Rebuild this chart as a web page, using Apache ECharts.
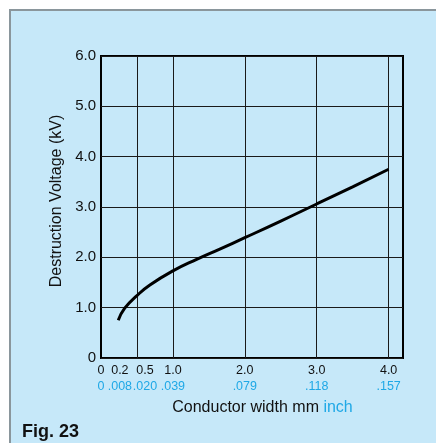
<!DOCTYPE html>
<html>
<head>
<meta charset="utf-8">
<script src="https://cdn.jsdelivr.net/npm/echarts@6/dist/echarts.min.js"></script>
<style>
html,body{margin:0;padding:0;background:#fff;overflow:hidden;}
#box{position:absolute;left:9px;top:9px;width:440px;height:450px;background:#c6e8f9;border-left:2px solid #8a969c;border-top:2px solid #8a969c;}
#chart{position:absolute;left:0;top:0;width:436px;height:443px;}
</style>
</head>
<body>
<div id="box"></div>
<div id="chart"></div>
<script>
// Data
const widthMm = [0.24, 0.33, 0.5, 0.68, 1.0, 1.33, 1.66, 2.0, 2.5, 3.0, 3.5, 4.0];
const voltageKv = [0.75, 0.99, 1.24, 1.45, 1.73, 1.96, 2.17, 2.39, 2.72, 3.06, 3.40, 3.75];
const mmTicks = [0, 0.2, 0.5, 1, 2, 3, 4];
const mmTickLabels = ['0', '0.2', '0.5', '1.0', '2.0', '3.0', '4.0'];
const inchTickLabels = ['0', '.008', '.020', '.039', '.079', '.118', '.157'];
const xGridValues = [0.5, 1, 2, 3, 4];
const yTicks = [0, 1, 2, 3, 4, 5, 6];
const yTickLabels = ['0', '1.0', '2.0', '3.0', '4.0', '5.0', '6.0'];

const BLUE = '#1fa8e6';
const FONT = '"Liberation Sans", Arial, sans-serif';
const LBL = 12.5;

// label groups (separate axes so that close labels are not hidden and can be nudged)
const tickGroups = [[0], [0.2], [0.5], [1, 2, 3, 4]];
const groupPad = [0, 9, 16, 0];

const rich = {
  m: {fontSize: LBL, color: '#111', lineHeight: 16, fontFamily: FONT},
  i: {fontSize: LBL, color: BLUE, lineHeight: 16, fontFamily: FONT}
};

function xLabelFormatter(v) {
  const idx = mmTicks.findIndex(t => Math.abs(t - v) < 1e-6);
  if (idx < 0) return '';
  return '{m|' + mmTickLabels[idx] + '}\n{i|' + inchTickLabels[idx] + '}';
}

const xAxes = tickGroups.map((vals, k) => {
  const ax = {
    type: 'value', min: 0, max: 4.2,
    position: 'bottom',
    axisLine: {show: false, onZero: false},
    axisTick: {show: false},
    splitLine: {show: false},
    axisLabel: {
      customValues: vals,
      margin: 5,
      hideOverlap: false,
      padding: [0, 0, 0, groupPad[k]],
      formatter: xLabelFormatter,
      rich: rich
    }
  };
  if (k === 3) {
    ax.name = '{a|Conductor width mm }{b|inch}';
    ax.nameLocation = 'middle';
    ax.nameGap = 42;
    ax.nameTextStyle = {
      padding: [0, 0, 0, 21],
      rich: {
        a: {fontSize: 16, color: '#111', fontFamily: FONT},
        b: {fontSize: 16, color: BLUE, fontFamily: FONT}
      }
    };
  }
  return ax;
});

const chart = echarts.init(document.getElementById('chart'), null, {renderer: 'canvas'});

chart.setOption({
  animation: false,
  backgroundColor: 'transparent',
  grid: {
    left: 101, top: 56, right: 33, bottom: 85,
    show: true, borderColor: '#000', borderWidth: 2, backgroundColor: 'transparent'
  },
  xAxis: xAxes,
  yAxis: {
    type: 'value', min: 0, max: 6, interval: 1,
    axisLine: {show: false},
    axisTick: {show: false},
    splitLine: {show: true, lineStyle: {color: '#1a1a1a', width: 1}},
    axisLabel: {
      margin: 5, fontSize: 15, color: '#111', fontFamily: FONT,
      formatter: function (v) {
        const idx = yTicks.indexOf(v);
        return idx >= 0 ? yTickLabels[idx] : '';
      }
    },
    name: 'Destruction Voltage (kV)',
    nameLocation: 'middle',
    nameGap: 22,
    nameTextStyle: {fontSize: 16, color: '#111', fontFamily: FONT, padding: [0, 0, 0, 12]}
  },
  series: [{
    type: 'line',
    xAxisIndex: 0,
    data: widthMm.map((x, i) => [x, voltageKv[i]]),
    smooth: 0.5,
    showSymbol: false,
    symbol: 'none',
    lineStyle: {color: '#000', width: 3},
    markLine: {
      silent: true,
      symbol: ['none', 'none'],
      label: {show: false},
      lineStyle: {color: '#1a1a1a', width: 1, type: 'solid'},
      data: xGridValues.map(v => ({xAxis: v}))
    },
    z: 5
  }],
  graphic: [{
    type: 'text',
    left: 22, top: 423,
    style: {text: 'Fig. 23', fontSize: 18, fontWeight: 'bold', fill: '#111', fontFamily: FONT}
  }]
});
</script>
</body>
</html>
